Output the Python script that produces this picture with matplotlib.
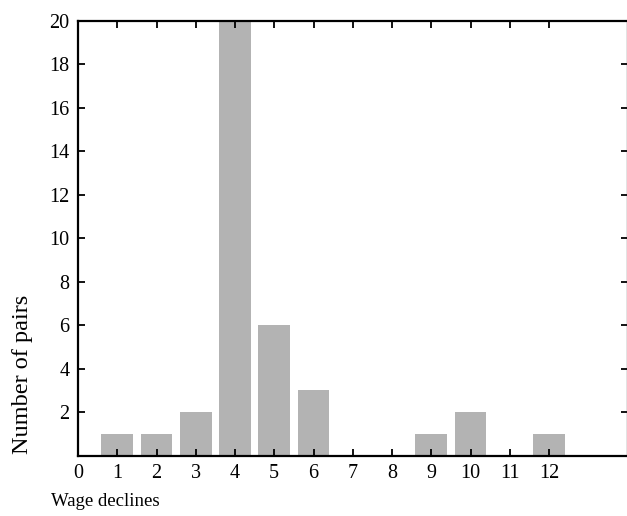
import matplotlib
matplotlib.use("Agg")
from matplotlib import pyplot as plt

plt.rcParams['font.family'] = ['Liberation Serif', 'DejaVu Serif']

declines = [1, 2, 3, 4, 5, 6, 7, 8, 9, 10, 11, 12]
pairs = [1, 1, 2, 20, 6, 3, 0, 0, 1, 2, 0, 1]
xtick_vals = [0, 1, 2, 3, 4, 5, 6, 7, 8, 9, 10, 11, 12]
ytick_vals = [2, 4, 6, 8, 10, 12, 14, 16, 18, 20]

fig = plt.figure(figsize=(6.27, 5.16), dpi=100)
ax = fig.add_axes([78 / 627, 1 - 455.7 / 516, (627.5 - 78) / 627, (455.7 - 20.7) / 516])

ax.bar(declines, pairs, width=0.81, color='#b3b3b3', zorder=1)

ax.set_xlim(0, 14)
ax.set_ylim(0, 20)
ax.set_xticks(xtick_vals)
ax.set_yticks(ytick_vals)
ax.tick_params(axis='both', direction='in', length=5, width=1.3, labelsize=14.5,
               top=True, right=True, pad=6)
ax.tick_params(axis='x', pad=6)
# no tick mark at 0 on the x axis (it sits on the spine)
ax.xaxis.get_major_ticks()[0].tick1line.set_visible(False)
ax.xaxis.get_major_ticks()[0].tick2line.set_visible(False)

for s in ax.spines.values():
    s.set_linewidth(1.6)
    s.set_zorder(3)

ax.set_ylabel('Number of pairs', fontsize=17.5, loc='bottom')
ax.yaxis.set_label_coords(-0.082, 0.005)
ax.set_xlabel('Wage declines', fontsize=13.5)
ax.xaxis.set_label_coords(-0.05, -0.085, transform=ax.transAxes)
ax.xaxis.label.set_horizontalalignment('left')

fig.savefig('out.png', dpi=100)
